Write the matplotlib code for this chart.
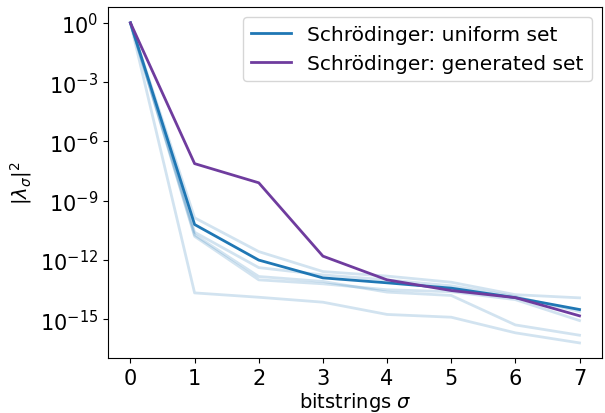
import matplotlib
matplotlib.use("Agg")
import matplotlib.pyplot as plt
import numpy as np

# bitstrings sigma on the x axis
sigma = [0, 1, 2, 3, 4, 5, 6, 7]

# log10 |lambda_sigma|^2
uniform_mean = [0, -10.2, -12.0, -12.9, -13.15, -13.42, -13.9, -14.5]
generated = [0, -7.12, -8.09, -11.8, -13.0, -13.54, -13.9, -14.82]

# individual uniform-set runs (light lines)
uniform_runs = [
    [0, -9.86, -11.57, -12.58, -12.81, -13.12, -13.75, -13.91],
    [0, -10.59, -12.38, -12.75, -13.0, -13.3, -13.85, -14.6],
    [0, -10.72, -12.83, -13.08, -13.62, -13.79, -15.28, -15.8],
    [0, -10.8, -13.0, -13.2, -13.5, -13.6, -14.0, -15.06],
    [0, -13.66, -13.88, -14.13, -14.75, -14.89, -15.68, -16.19],
]

fig, ax = plt.subplots(figsize=(6.05, 4.14), dpi=100)
fig.subplots_adjust(left=0.1785, right=0.995, top=0.981, bottom=0.133)

for run in uniform_runs:
    ax.plot(sigma, 10.0 ** np.array(run), color="C0", alpha=0.2, lw=2)

ax.plot(sigma, 10.0 ** np.array(uniform_mean), color="#1f77b4", lw=2,
        label="Schrödinger: uniform set")
ax.plot(sigma, 10.0 ** np.array(generated), color="#6f3c9e", lw=2,
        label="Schrödinger: generated set")

ax.set_yscale("log")
ax.set_ylim(10 ** -16.95, 10 ** 0.81)
ax.set_yticks([1e0, 1e-3, 1e-6, 1e-9, 1e-12, 1e-15])
ax.minorticks_off()
ax.set_xticks(sigma)
ax.tick_params(labelsize=15)
ax.set_xlabel(r"bitstrings $\sigma$", fontsize=14, labelpad=2)
ax.set_ylabel(r"$|\lambda_\sigma|^2$", fontsize=14)
ax.legend(loc="upper right", fontsize=14.5)

fig.savefig("out.png", dpi=100)
